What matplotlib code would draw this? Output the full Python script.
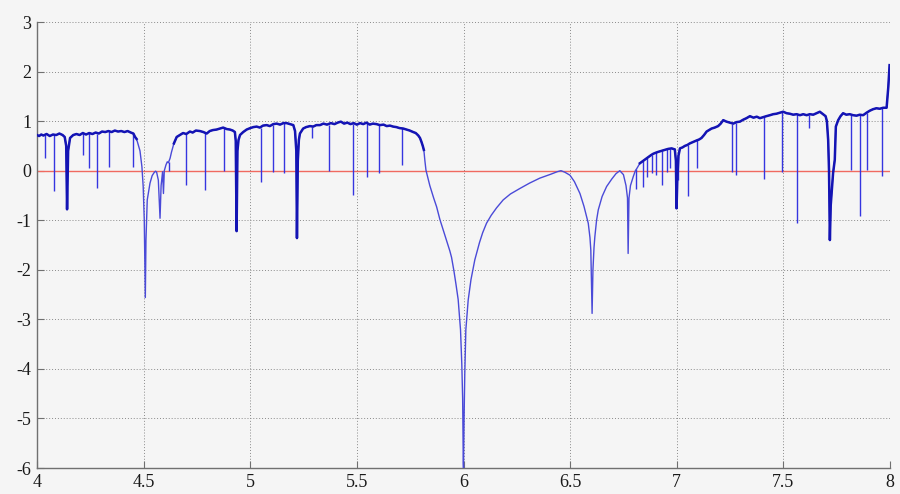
import numpy as np
import matplotlib
matplotlib.use("Agg")
import matplotlib.pyplot as plt

# main trace: noisy plateau, deep notch near 6 and the recovery towards 8
trace_x = [
    4.000, 4.010, 4.020, 4.030, 4.045, 4.060, 4.075, 4.090, 4.105, 4.120,
    4.130, 4.137, 4.141, 4.146, 4.155, 4.170, 4.185, 4.200, 4.215, 4.230,
    4.245, 4.260, 4.275, 4.290, 4.305, 4.320, 4.335, 4.350, 4.365, 4.380,
    4.395, 4.410, 4.425, 4.440, 4.452, 4.460, 4.467, 4.475, 4.483, 4.492,
    4.498, 4.503, 4.508, 4.511, 4.517, 4.530, 4.540, 4.549, 4.556, 4.561,
    4.569, 4.577, 4.582, 4.589, 4.593, 4.597, 4.605, 4.611, 4.616, 4.624,
    4.631, 4.642, 4.655, 4.670, 4.685, 4.700, 4.717, 4.730, 4.745, 4.764,
    4.780, 4.796, 4.810, 4.825, 4.842, 4.858, 4.873, 4.890, 4.905, 4.918,
    4.928, 4.932, 4.936, 4.940, 4.945, 4.952, 4.967, 4.983, 5.000, 5.015,
    5.030, 5.045, 5.060, 5.077, 5.092, 5.108, 5.124, 5.140, 5.155, 5.171,
    5.187, 5.202, 5.210, 5.216, 5.219, 5.223, 5.228, 5.233, 5.248, 5.262,
    5.280, 5.295, 5.310, 5.327, 5.343, 5.360, 5.378, 5.395, 5.410, 5.425,
    5.440, 5.455, 5.470, 5.485, 5.500, 5.515, 5.530, 5.545, 5.560, 5.575,
    5.592, 5.608, 5.625, 5.640, 5.655, 5.670, 5.685, 5.700, 5.718, 5.733,
    5.748, 5.764, 5.776, 5.788, 5.796, 5.803, 5.809, 5.814, 5.819, 5.824,
    5.842, 5.860, 5.874, 5.889, 5.905, 5.920, 5.936, 5.944, 5.955, 5.965,
    5.975, 5.986, 5.992, 5.996, 5.999, 6.000, 6.002, 6.006, 6.011, 6.022,
    6.035, 6.053, 6.075, 6.090, 6.108, 6.130, 6.155, 6.186, 6.220, 6.264,
    6.310, 6.358, 6.410, 6.440, 6.457, 6.475, 6.499, 6.520, 6.546, 6.565,
    6.585, 6.593, 6.597, 6.600, 6.603, 6.607, 6.612, 6.616, 6.624, 6.632,
    6.650, 6.671, 6.695, 6.715, 6.733, 6.750, 6.762, 6.769, 6.772, 6.776,
    6.783, 6.796, 6.806, 6.815, 6.827, 6.843, 6.855, 6.866, 6.878, 6.889,
    6.900, 6.913, 6.928, 6.944, 6.960, 6.976, 6.991, 6.996, 6.999, 7.003,
    7.008, 7.015, 7.027, 7.038, 7.050, 7.061, 7.077, 7.093, 7.105, 7.116,
    7.128, 7.140, 7.152, 7.163, 7.178, 7.194, 7.206, 7.218, 7.233, 7.249,
    7.265, 7.280, 7.296, 7.312, 7.327, 7.343, 7.360, 7.375, 7.390, 7.405,
    7.420, 7.437, 7.452, 7.468, 7.484, 7.499, 7.515, 7.530, 7.546, 7.562,
    7.578, 7.593, 7.609, 7.624, 7.640, 7.655, 7.671, 7.686, 7.698, 7.704,
    7.710, 7.714, 7.718, 7.722, 7.726, 7.733, 7.741, 7.746, 7.757, 7.768,
    7.780, 7.795, 7.811, 7.827, 7.843, 7.858, 7.874, 7.890, 7.905, 7.920,
    7.936, 7.952, 7.968, 7.984, 7.992, 7.998,
]
trace_y = [
    0.72, 0.70, 0.73, 0.71, 0.74, 0.70, 0.73, 0.72, 0.75, 0.72,
    0.68, 0.50, -0.78, 0.40, 0.66, 0.72, 0.74, 0.72, 0.76, 0.73,
    0.76, 0.74, 0.77, 0.75, 0.79, 0.78, 0.80, 0.78, 0.81, 0.79,
    0.80, 0.78, 0.80, 0.77, 0.75, 0.68, 0.64, 0.52, 0.40, 0.08,
    -0.32, -0.99, -2.56, -1.40, -0.59, -0.25, -0.10, -0.04, -0.01, -0.03,
    -0.19, -0.96, -0.30, -0.02, -0.46, 0.00, 0.12, 0.18, 0.16, 0.25,
    0.38, 0.55, 0.68, 0.72, 0.76, 0.74, 0.79, 0.77, 0.81, 0.80,
    0.78, 0.75, 0.80, 0.82, 0.83, 0.85, 0.87, 0.84, 0.83, 0.81,
    0.78, 0.60, -1.22, 0.40, 0.62, 0.72, 0.78, 0.83, 0.86, 0.88,
    0.89, 0.87, 0.91, 0.92, 0.90, 0.94, 0.95, 0.93, 0.96, 0.96,
    0.94, 0.92, 0.80, 0.40, -1.36, 0.20, 0.62, 0.75, 0.85, 0.88,
    0.90, 0.89, 0.92, 0.92, 0.95, 0.93, 0.96, 0.94, 0.97, 0.99,
    0.95, 0.97, 0.94, 0.96, 0.93, 0.96, 0.94, 0.97, 0.93, 0.95,
    0.94, 0.92, 0.93, 0.90, 0.91, 0.89, 0.88, 0.86, 0.85, 0.83,
    0.81, 0.78, 0.76, 0.71, 0.66, 0.58, 0.50, 0.42, 0.20, 0.01,
    -0.30, -0.55, -0.73, -0.98, -1.20, -1.40, -1.62, -1.75, -2.02, -2.30,
    -2.60, -3.21, -3.90, -4.60, -5.90, -6.00, -5.20, -4.10, -3.21, -2.61,
    -2.20, -1.80, -1.45, -1.25, -1.06, -0.90, -0.75, -0.59, -0.47, -0.36,
    -0.25, -0.15, -0.07, -0.02, 0.00, -0.03, -0.09, -0.22, -0.46, -0.72,
    -1.06, -1.35, -1.60, -2.20, -2.88, -2.00, -1.55, -1.33, -1.00, -0.79,
    -0.52, -0.32, -0.17, -0.06, 0.00, -0.08, -0.30, -0.55, -1.67, -0.55,
    -0.30, -0.12, 0.00, 0.06, 0.15, 0.20, 0.24, 0.27, 0.31, 0.34,
    0.36, 0.38, 0.40, 0.42, 0.44, 0.45, 0.43, 0.20, -0.76, -0.12,
    0.30, 0.45, 0.47, 0.50, 0.52, 0.55, 0.58, 0.61, 0.63, 0.66,
    0.72, 0.79, 0.82, 0.85, 0.87, 0.90, 0.95, 1.02, 0.99, 0.97,
    0.95, 0.98, 0.99, 1.03, 1.06, 1.10, 1.07, 1.09, 1.06, 1.08,
    1.10, 1.12, 1.14, 1.15, 1.17, 1.19, 1.16, 1.15, 1.13, 1.14,
    1.12, 1.14, 1.12, 1.14, 1.13, 1.16, 1.19, 1.14, 1.10, 1.00,
    0.62, 0.00, -1.40, -0.70, -0.46, -0.05, 0.22, 0.89, 1.02, 1.10,
    1.16, 1.13, 1.14, 1.12, 1.11, 1.13, 1.12, 1.17, 1.21, 1.24,
    1.26, 1.25, 1.27, 1.27, 1.69, 2.13,
]

# narrow notches hanging off the trace
spike_x = [4.036, 4.079, 4.215, 4.245, 4.283, 4.338, 4.449, 4.620,
           4.699, 4.788, 4.877, 5.049, 5.105, 5.159, 5.288, 5.370,
           5.480, 5.549, 5.602, 5.710, 6.807, 6.843, 6.859, 6.882,
           6.905, 6.933, 6.955, 6.968, 7.008, 7.051, 7.093, 7.261,
           7.277, 7.410, 7.494, 7.566, 7.619, 7.816, 7.861, 7.894, 7.963]
spike_top = [0.72, 0.72, 0.76, 0.76, 0.75, 0.80, 0.77, 0.18,
             0.74, 0.78, 0.87, 0.87, 0.93, 0.96, 0.89, 0.93,
             0.95, 0.97, 0.93, 0.86, 0.03, 0.20, 0.25, 0.32,
             0.37, 0.40, 0.43, 0.44, 0.30, 0.52, 0.61, 0.95,
             0.96, 1.08, 1.19, 1.14, 1.13, 1.13, 1.13, 1.17, 1.27]
spike_bottom = [0.25, -0.41, 0.32, 0.05, -0.35, 0.08, 0.08, 0.00,
                -0.29, -0.39, 0.00, -0.23, -0.02, -0.05, 0.65, 0.00,
                -0.49, -0.13, -0.04, 0.11, -0.36, -0.33, -0.12, -0.05,
                -0.09, -0.29, -0.02, 0.05, -0.19, -0.52, 0.05, -0.02,
                -0.09, -0.17, -0.02, -1.06, 0.87, 0.01, -0.91, 0.01, -0.10]

zero_level = 0.0

x_ticks = [4, 4.5, 5, 5.5, 6, 6.5, 7, 7.5, 8]
x_labels = ["4", "4.5", "5", "5.5", "6", "6.5", "7", "7.5", "8"]
y_ticks = [-6, -5, -4, -3, -2, -1, 0, 1, 2, 3]

bg = "#f5f5f5"
plt.rcParams["font.family"] = ["Liberation Serif", "DejaVu Serif"]
plt.rcParams["axes.unicode_minus"] = False

fig = plt.figure(figsize=(9, 4.94), dpi=100, facecolor=bg)
ax = fig.add_axes([0.0411, 0.0526, 0.9478, 0.9028], facecolor=bg)

tx = np.array(trace_x)
ty = np.array(trace_y)
# noisy stretches are drawn heavier than the smooth arcs
noisy = (tx <= 4.47) | ((tx >= 4.64) & (tx <= 5.815)) | (tx >= 6.82)

ax.axhline(zero_level, color="#f06a60", lw=1.0, zorder=2)
ax.vlines(spike_x, spike_bottom, spike_top, color="#3535e0", lw=1.0, zorder=3)
ax.plot(tx, ty, color="#4a4ad8", lw=1.0, zorder=4)
ax.plot(tx, np.where(noisy, ty, np.nan), color="#1414b4", lw=1.8, zorder=5)

ax.set_xlim(4, 8)
ax.set_ylim(-6, 3)
ax.set_xticks(x_ticks)
ax.set_xticklabels(x_labels)
ax.set_yticks(y_ticks)

ax.grid(True, color="#8a8a8a", linestyle=(0, (1, 2)), linewidth=0.7)
ax.set_axisbelow(True)
for side in ("top", "right"):
    ax.spines[side].set_visible(False)
for side in ("left", "bottom"):
    ax.spines[side].set_color("#707070")
    ax.spines[side].set_linewidth(1.0)
ax.tick_params(direction="in", length=5, color="#707070", labelsize=13,
               labelcolor="#1a1a1a", pad=4)

fig.savefig("out.png", dpi=100, facecolor=bg)
